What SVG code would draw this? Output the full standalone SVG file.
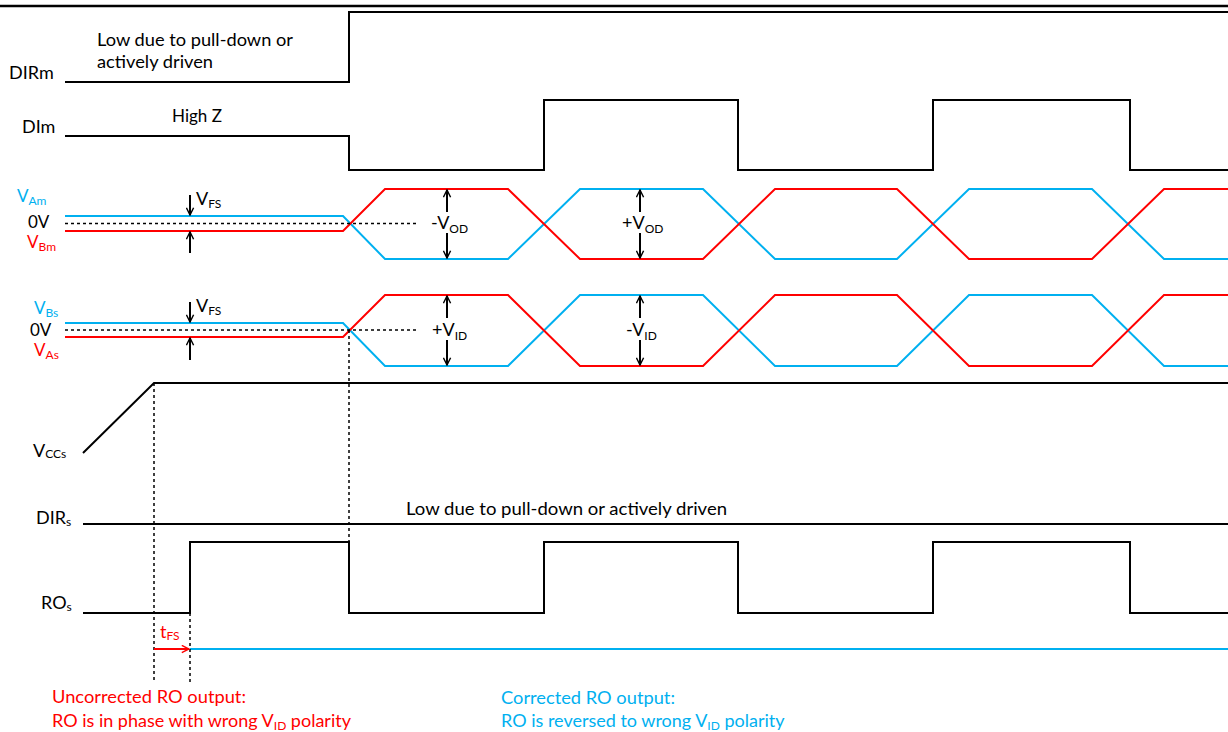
<svg xmlns="http://www.w3.org/2000/svg" width="1228" height="732" viewBox="0 0 1228 732">
<style>
text{font-family:Lato,"Open Sans","Liberation Sans",sans-serif;font-size:18px;fill:#000}
.sub{font-size:12px}
.lbl{font-size:17px}
.blue{fill:#00B0F0}
.red{fill:#FF0000}
.sig{fill:none;stroke:#000;stroke-width:2}
.bl{fill:none;stroke:#00B0F0;stroke-width:2}
.rd{fill:none;stroke:#FF0000;stroke-width:2}
.dash{fill:none;stroke:#000;stroke-width:1.5;stroke-dasharray:3 3}
.arr{fill:none;stroke:#000;stroke-width:2;marker-end:url(#ah)}
</style>
<defs>
<marker id="ah" viewBox="0 0 10 10" refX="9" refY="5" markerWidth="9" markerHeight="9" markerUnits="userSpaceOnUse" orient="auto">
<path d="M1,1 L9,5 L1,9" fill="none" stroke="#000" stroke-width="1.6"/>
</marker>
<marker id="ahr" viewBox="0 0 10 10" refX="9" refY="5" markerWidth="9" markerHeight="9" markerUnits="userSpaceOnUse" orient="auto">
<path d="M1,1 L9,5 L1,9" fill="none" stroke="#FF0000" stroke-width="1.6"/>
</marker>
</defs>
<rect width="1228" height="732" fill="#fff"/>
<line x1="0" y1="6" x2="1228" y2="6" stroke="#000" stroke-width="2.5"/>

<g id="DIRm">
<text x="9" y="79">DIRm</text>
<text x="97" y="46" textLength="196" lengthAdjust="spacingAndGlyphs">Low due to pull-down or</text>
<text x="97" y="68" textLength="116" lengthAdjust="spacingAndGlyphs">actively driven</text>
<path class="sig" d="M65,82 L349,82 L349,12 L1228,12"/>
</g>

<g id="DIm">
<text x="22" y="133">DIm</text>
<text x="172" y="122" textLength="50" lengthAdjust="spacingAndGlyphs">High Z</text>
<path class="sig" d="M65,136 L349,136 L349,170 L544,170 L544,100 L738,100 L738,170 L933,170 L933,100 L1130,100 L1130,170 L1228,170"/>
</g>

<g id="master-bus">
<text x="17" y="202" class="blue lbl">V<tspan class="sub" dy="3">Am</tspan></text>
<text x="28" y="228" class="lbl">0V</text>
<text x="27" y="248" class="red lbl">V<tspan class="sub" dy="3">Bm</tspan></text>
<path class="bl" d="M65,216 L343,216 L385,259 L508,259 L580,189 L703,189 L775,259 L897,259 L969,189 L1092,189 L1164,259 L1228,259"/>
<path class="rd" d="M65,231 L343,231 L385,189 L508,189 L580,259 L703,259 L775,189 L897,189 L969,259 L1092,259 L1164,189 L1228,189"/>
<text x="196" y="205">V<tspan class="sub" dy="3">FS</tspan></text>
<text x="431" y="229">-V<tspan class="sub" dy="4">OD</tspan></text>
<text x="622" y="229">+V<tspan class="sub" dy="4">OD</tspan></text>
</g>

<g id="slave-bus">
<text x="34" y="314" class="blue lbl">V<tspan class="sub" dy="3">Bs</tspan></text>
<text x="30" y="336" class="lbl">0V</text>
<text x="34" y="356" class="red lbl">V<tspan class="sub" dy="3">As</tspan></text>
<path class="bl" d="M65,323 L343,323 L385,366 L508,366 L580,295 L703,295 L775,366 L897,366 L969,295 L1092,295 L1164,366 L1228,366"/>
<path class="rd" d="M65,337 L343,337 L385,295 L508,295 L580,366 L703,366 L775,295 L897,295 L969,366 L1092,366 L1164,295 L1228,295"/>
<text x="196" y="312">V<tspan class="sub" dy="3">FS</tspan></text>
<text x="432" y="336">+V<tspan class="sub" dy="4">ID</tspan></text>
<text x="626" y="336">-V<tspan class="sub" dy="4">ID</tspan></text>
</g>

<g id="VCCs">
<text x="33" y="457">V<tspan class="sub" dy="1">CCs</tspan></text>
<path class="sig" d="M83,453 L154,383 L1228,383"/>
</g>

<g id="DIRs">
<text x="36" y="524">DIR<tspan class="sub" dy="2">s</tspan></text>
<text x="406" y="515" textLength="321" lengthAdjust="spacingAndGlyphs">Low due to pull-down or actively driven</text>
<path class="sig" d="M83,524 L1228,524"/>
</g>

<g id="ROs">
<text x="41" y="609">RO<tspan class="sub" dy="2">s</tspan></text>
<path class="sig" d="M83,613 L190,613 L190,542 L349,542 L349,613 L544,613 L544,542 L738,542 L738,613 L933,613 L933,542 L1130,542 L1130,613 L1228,613"/>
<path class="bl" d="M190,649 L1228,649"/>
<text x="160" y="638" class="red">t<tspan class="sub" dy="2">FS</tspan></text>
</g>

<g id="notes">
<text x="52" y="703" class="red" textLength="194" lengthAdjust="spacingAndGlyphs">Uncorrected RO output:</text>
<text x="52" y="727" class="red">RO is in phase with wrong V<tspan class="sub" dy="3">ID</tspan><tspan dy="-3"> polarity</tspan></text>
<text x="501" y="704" class="blue" textLength="174" lengthAdjust="spacingAndGlyphs">Corrected RO output:</text>
<text x="501" y="727" class="blue">RO is reversed to wrong V<tspan class="sub" dy="3">ID</tspan><tspan dy="-3"> polarity</tspan></text>
</g>

<g id="connectors">
<path class="dash" d="M65,223.5 L418,223.5"/>
<path class="dash" d="M65,330 L418,330"/>
<path class="dash" d="M349,330 L349,580"/>
<path class="dash" d="M154,383 L154,683"/>
<path class="dash" d="M190,613 L190,683"/>
<line class="arr" x1="190" y1="195" x2="190" y2="215"/>
<line class="arr" x1="190" y1="253" x2="190" y2="232"/>
<line class="arr" x1="190" y1="302" x2="190" y2="322"/>
<line class="arr" x1="190" y1="360" x2="190" y2="338"/>
<line class="arr" x1="447" y1="212" x2="447" y2="190"/>
<line class="arr" x1="447" y1="233" x2="447" y2="258"/>
<line class="arr" x1="640" y1="212" x2="640" y2="190"/>
<line class="arr" x1="640" y1="233" x2="640" y2="258"/>
<line class="arr" x1="447" y1="318" x2="447" y2="296"/>
<line class="arr" x1="447" y1="340" x2="447" y2="365"/>
<line class="arr" x1="640" y1="318" x2="640" y2="296"/>
<line class="arr" x1="640" y1="340" x2="640" y2="365"/>
<line x1="154" y1="649" x2="189" y2="649" stroke="#FF0000" stroke-width="2" marker-end="url(#ahr)"/>
</g>
</svg>
